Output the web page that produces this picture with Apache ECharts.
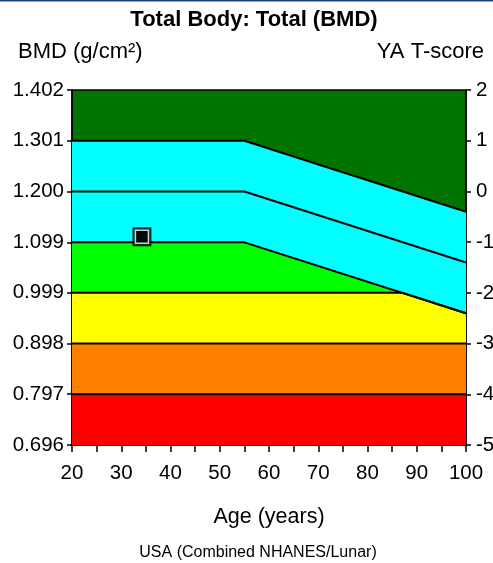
<!DOCTYPE html>
<html>
<head>
<meta charset="utf-8">
<script src="https://cdn.jsdelivr.net/npm/echarts@6/dist/echarts.min.js"></script>
<style>
html,body{margin:0;padding:0;background:#fff;}
#chart{width:493px;height:563px;}
</style>
</head>
<body>
<div id="chart"></div>
<script>
// ---- data ----
var refAges = [20, 55, 100];
var tPlus1 = [1.301, 1.301, 1.160];   // upper boundary (T = +1)
var tZero = [1.200, 1.200, 1.059];    // middle line (T = 0)
var tMinus1 = [1.099, 1.099, 0.958];  // lower boundary (T = -1)
var yellowAges = [20, 87, 100];
var yellowTop = [0.999, 0.999, 0.958]; // top of yellow band
var orangeTop = [0.898, 0.898];
var redTop = [0.797, 0.797];
var flatAges = [20, 100];
var patientAge = [34.2];
var patientBmd = [1.110];
var xTickLabels = [20, 30, 40, 50, 60, 70, 80, 90, 100];
var yTickLabels = [0.696, 0.797, 0.898, 0.999, 1.099, 1.200, 1.301, 1.402];
var tScoreTicks = [-5, -4, -3, -2, -1, 0, 1, 2];

function pairs(xs, ys) { return xs.map(function (x, i) { return [x, ys[i]]; }); }

var FONT = '"Liberation Sans", Arial, sans-serif';
var chart = echarts.init(document.getElementById('chart'), null, {renderer: 'canvas'});

function band(data, color, withLine) {
  return {
    type: 'line', data: data, symbol: 'none', silent: true,
    yAxisIndex: 0,
    lineStyle: {color: '#000', width: withLine ? 2 : 0},
    areaStyle: {color: color, opacity: 1, origin: 'start'},
    animation: false
  };
}

var option = {
  animation: false,
  backgroundColor: '#fff',
  grid: {left: 72, right: 27, top: 90, bottom: 118, show: true,
         outerBoundsMode: 'none', containLabel: false,
         backgroundColor: '#007400', borderColor: '#000', borderWidth: 1.5},
  xAxis: {
    type: 'value', min: 20, max: 100, interval: 5,
    name: 'Age (years)', nameLocation: 'middle', nameGap: 61,
    nameTextStyle: {fontFamily: FONT, fontSize: 21.5, color: '#000'},
    axisLine: {onZero: false, lineStyle: {color: '#000', width: 1.5}},
    axisTick: {show: true, length: 7, lineStyle: {color: '#000', width: 1.5}},
    axisLabel: {fontFamily: FONT, fontSize: 20.5, color: '#000', margin: 18,
      formatter: function (v) { return xTickLabels.indexOf(v) >= 0 ? String(v) : ''; }},
    splitLine: {show: false}
  },
  yAxis: [{
    type: 'value', min: 0.696, max: 1.402, position: 'left',
    axisLine: {show: true, onZero: false, lineStyle: {color: '#000', width: 1.5}},
    axisTick: {show: true, length: 5, customValues: yTickLabels, lineStyle: {color: '#000', width: 1.5}},
    axisLabel: {fontFamily: FONT, fontSize: 20.5, color: '#000', margin: 8,
      customValues: yTickLabels,
      formatter: function (v) { return v.toFixed(3); }},
    splitLine: {show: false}
  }, {
    type: 'value', min: -5, max: 2, interval: 1, position: 'right',
    axisLine: {show: true, onZero: false, lineStyle: {color: '#000', width: 1.5}},
    axisTick: {show: true, length: 5, lineStyle: {color: '#000', width: 1.5}},
    axisLabel: {fontFamily: FONT, fontSize: 20.5, color: '#000', margin: 10,
      formatter: function (v) { return tScoreTicks.indexOf(v) >= 0 ? String(v) : ''; }},
    splitLine: {show: false}
  }],
  series: [
    band(pairs(refAges, tPlus1), '#00ffff', true),
    {type: 'line', data: pairs(refAges, tZero), symbol: 'none', silent: true,
     lineStyle: {color: '#000', width: 2}},
    band(pairs(refAges, tMinus1), '#00ff00', true),
    band(pairs(yellowAges, yellowTop), '#ffff00', true),
    band(pairs(flatAges, orangeTop), '#ff8000', true),
    band(pairs(flatAges, redTop), '#ff0000', true),
    {type: 'scatter', data: pairs(patientAge, patientBmd), symbol: 'rect', symbolSize: 19,
     itemStyle: {color: '#000'}, z: 5, silent: true},
    {type: 'scatter', data: pairs(patientAge, patientBmd), symbol: 'rect', symbolSize: 13,
     itemStyle: {color: '#000', borderColor: '#fff', borderWidth: 1.5}, z: 6, silent: true}
  ],
  graphic: [
    {type: 'rect', left: 0, top: 0, shape: {width: 493, height: 1.5}, style: {fill: '#1f3f8a'}},
    {type: 'text', x: 254, y: 20, style: {text: 'Total Body: Total (BMD)', fontFamily: FONT,
      fontSize: 22, fontWeight: 'bold', fill: '#000', align: 'center', verticalAlign: 'middle'}},
    {type: 'text', x: 18, y: 52, style: {text: 'BMD (g/cm²)', fontFamily: FONT,
      fontSize: 22, fill: '#000', align: 'left', verticalAlign: 'middle'}},
    {type: 'text', x: 484, y: 52, style: {text: 'YA T-score', fontFamily: FONT,
      fontSize: 22, fill: '#000', align: 'right', verticalAlign: 'middle'}},
    {type: 'text', x: 258, y: 553, style: {text: 'USA (Combined NHANES/Lunar)', fontFamily: FONT,
      fontSize: 16, fill: '#000', align: 'center', verticalAlign: 'middle'}}
  ]
};
chart.setOption(option);
</script>
</body>
</html>
